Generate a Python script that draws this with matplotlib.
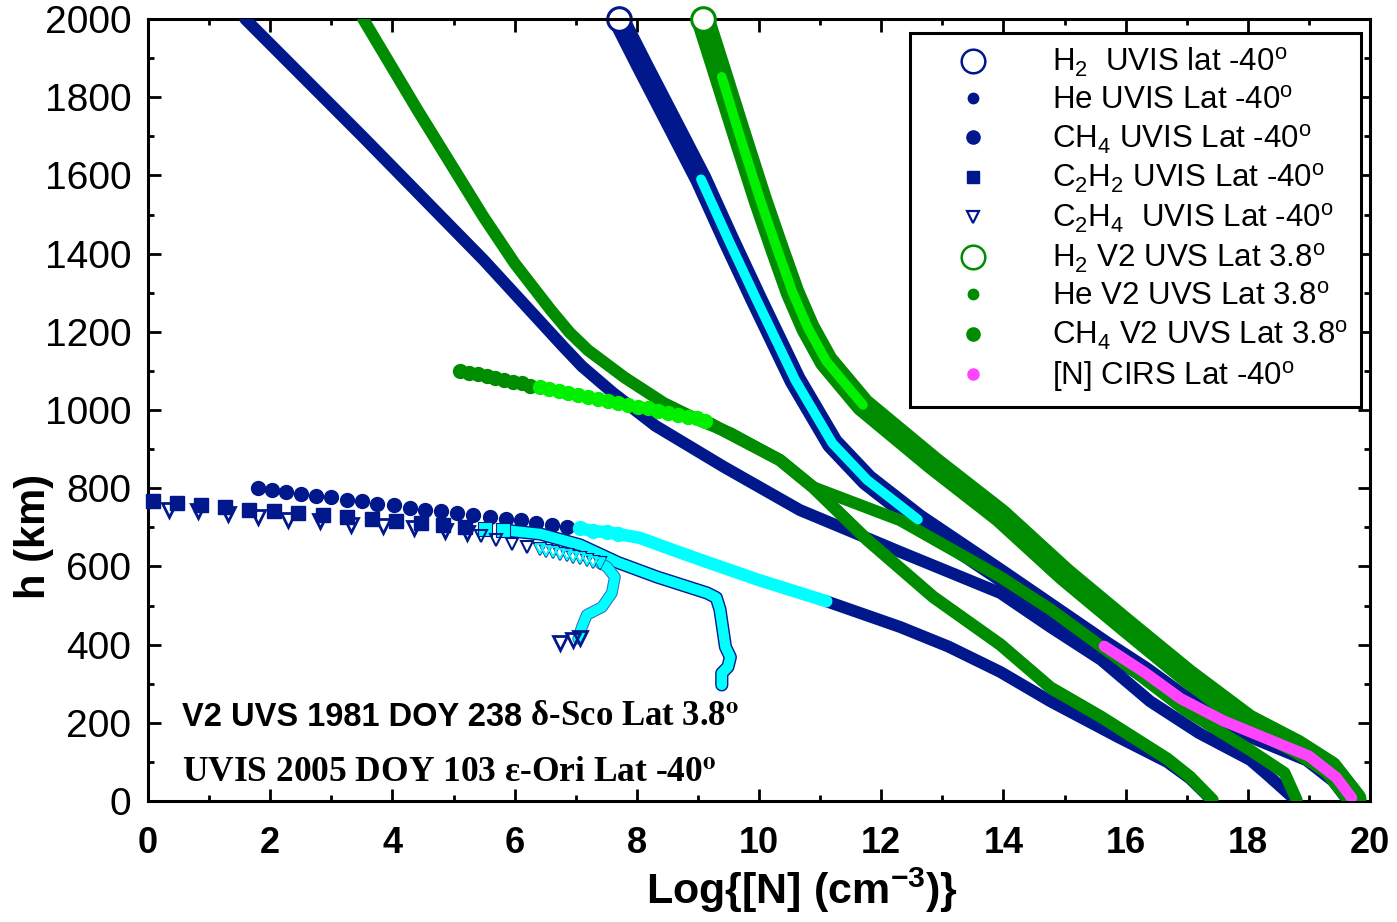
import matplotlib.pyplot as plt
import matplotlib.patheffects as pe
from matplotlib.lines import Line2D

plt.rcParams['font.family'] = ['Liberation Sans', 'DejaVu Sans']
plt.rcParams['mathtext.fontset'] = 'custom'
plt.rcParams['mathtext.rm'] = 'Liberation Sans'
plt.rcParams['mathtext.it'] = 'Liberation Sans:italic'
plt.rcParams['mathtext.bf'] = 'Liberation Sans:bold'
plt.rcParams['mathtext.default'] = 'regular'

# --- data: log10 density (cm^-3) vs altitude (km) ---
# UVIS 2005, lat -40
h2_uvis_logn = [7.7, 8.1, 8.66, 9.05, 9.5, 9.95, 10.59, 11.2, 11.77, 12.6, 13.95, 15.65, 16.3, 16.9, 17.6, 18.3, 19.0, 19.45, 19.72]
h2_uvis_alt = [2000, 1877, 1708, 1590, 1435, 1285, 1077, 915, 821, 720, 578, 396, 330, 262, 205, 160, 115, 60, 5]
h2_uvis_fit_logn = [9.05, 9.5, 9.95, 10.59, 11.2, 11.77, 12.6]
h2_uvis_fit_alt = [1590, 1435, 1285, 1077, 915, 821, 720]

he_uvis_logn = [1.59, 3.52, 5.49, 6.79, 7.1, 7.6, 8.3, 9.43, 10.67, 11.5, 12.31, 13.95, 14.77, 15.6, 16.4, 17.2, 18.04, 18.3, 18.78]
he_uvis_alt = [2000, 1698, 1384, 1163, 1112, 1045, 960, 854, 744, 690, 637, 532, 445, 361, 255, 174, 105, 70, 3]

ch4_uvis_dot_logn = [1.80, 2.03, 2.26, 2.50, 2.75, 2.99, 3.26, 3.50, 3.75, 4.03, 4.29, 4.53, 4.80, 5.06, 5.32, 5.60, 5.86, 6.11, 6.35, 6.61, 6.85]
ch4_uvis_dot_alt = [800, 795, 790, 785, 780, 777, 770, 767, 760, 757, 749, 744, 742, 737, 731, 726, 721, 719, 711, 706, 701]
ch4_uvis_fit_logn = [7.07, 7.28, 7.51, 7.69, 8.05, 8.59, 9.15, 10.0, 11.1]
ch4_uvis_fit_alt = [698, 690, 688, 683, 673, 642, 611, 565, 511]
ch4_uvis_low_logn = [11.1, 12.31, 13.1, 13.95, 14.77, 15.86, 16.68, 17.05, 17.3, 17.4]
ch4_uvis_low_alt = [511, 445, 395, 330, 255, 165, 100, 58, 20, 3]

c2h2_uvis_logn = [0.08, 0.47, 0.87, 1.26, 1.65, 2.06, 2.45, 2.86, 3.26, 3.67, 4.06, 4.47, 4.83, 5.19]
c2h2_uvis_alt = [767, 762, 757, 752, 744, 742, 737, 731, 726, 721, 716, 711, 706, 701]
c2h2_uvis_fit_logn = [5.52, 5.81]
c2h2_uvis_fit_alt = [696, 693]
c2h2_uvis_tail_logn = [5.81, 6.42, 7.07, 7.69, 8.33, 9.15, 9.3, 9.36, 9.45, 9.53, 9.49, 9.39, 9.39]
c2h2_uvis_tail_alt = [693, 683, 655, 610, 573, 532, 520, 490, 394, 368, 343, 327, 297]

c2h4_uvis_logn = [0.34, 0.82, 1.31, 1.80, 2.29, 2.82, 3.32, 3.85, 4.35, 4.86, 5.22]
c2h4_uvis_alt = [744, 742, 734, 726, 719, 716, 706, 703, 698, 691, 685]
c2h4_uvis_zig_logn = [5.45, 5.7, 5.95, 6.2, 6.42, 6.52, 6.63, 6.74, 6.85, 6.96, 7.07, 7.18, 7.29, 7.40]
c2h4_uvis_zig_alt = [678, 668, 658, 650, 644, 640, 636, 632, 628, 625, 621, 616, 612, 608]
c2h4_uvis_tail_logn = [7.40, 7.51, 7.64, 7.59, 7.43, 7.18, 7.1, 7.04]
c2h4_uvis_tail_alt = [608, 599, 573, 532, 496, 476, 445, 415]
c2h4_uvis_end_logn = [6.74, 6.96, 7.07]
c2h4_uvis_end_alt = [404, 412, 417]

# Voyager 2 UVS 1981, lat 3.8
h2_v2_logn = [9.08, 9.33, 9.67, 10.02, 10.3, 10.55, 10.8, 11.1, 11.7, 12.85, 13.95, 15.0, 16.0, 17.0, 18.0, 18.8, 19.35, 19.75]
h2_v2_alt = [2000, 1877, 1708, 1537, 1410, 1300, 1210, 1125, 1013, 864, 730, 580, 450, 322, 205, 140, 85, 5]
h2_v2_fit_logn = [9.39, 9.67, 10.02, 10.3, 10.55, 10.8, 11.1, 11.7]
h2_v2_fit_alt = [1852, 1708, 1537, 1410, 1300, 1210, 1125, 1013]

he_v2_logn = [3.52, 4.41, 5.49, 6.0, 6.59, 6.9, 7.2, 7.8, 8.44, 9.0, 9.53, 10.34, 10.88, 12.31, 13.95, 14.77, 15.9, 16.97, 18.04, 18.6, 18.8]
he_v2_alt = [2000, 1767, 1494, 1375, 1256, 1198, 1153, 1083, 1018, 975, 941, 872, 803, 718, 573, 490, 361, 233, 130, 72, 3]

ch4_v2_dot_logn = [5.11, 5.25, 5.40, 5.55, 5.68, 5.83, 5.97, 6.12, 6.25]
ch4_v2_dot_alt = [1100, 1095, 1092, 1087, 1082, 1077, 1072, 1069, 1061]
ch4_v2_fit_logn = [6.42, 6.56, 6.73, 6.87, 7.04, 7.20, 7.37, 7.53, 7.69, 7.86, 8.02, 8.18, 8.35, 8.51, 8.67, 8.84, 8.98, 9.12]
ch4_v2_fit_alt = [1059, 1054, 1049, 1043, 1038, 1033, 1028, 1023, 1018, 1013, 1008, 1005, 997, 992, 987, 982, 980, 972]
ch4_v2_low_logn = [9.12, 10.34, 10.88, 11.77, 12.85, 13.95, 14.77, 15.6, 16.68, 17.05, 17.42]
ch4_v2_low_alt = [972, 872, 803, 668, 522, 400, 290, 215, 108, 62, 3]

# CIRS, lat -40
cirs_logn = [15.65, 16.3, 16.9, 17.6, 18.3, 19.0, 19.45, 19.7]
cirs_alt = [396, 330, 262, 205, 160, 115, 60, 8]

navy = '#00188C'
green = '#008C00'
lime = '#00F000'
cyan = '#00FFFF'
magenta = '#FF44FF'

fig = plt.figure(figsize=(13.97, 9.22), dpi=100)
ax = fig.add_axes([0.106, 0.1312, 0.8747, 0.8482])

line_kw = dict(solid_capstyle='round', solid_joinstyle='round')

# UVIS profiles
ax.plot(h2_uvis_logn, h2_uvis_alt, color=navy, lw=15.5, zorder=2, **line_kw)
ax.plot(h2_uvis_logn[0], h2_uvis_alt[0], 'o', ms=17, mfc='white', mec=navy, mew=2.2, zorder=2, clip_on=False)
ax.plot(he_uvis_logn, he_uvis_alt, color=navy, lw=8.6, zorder=3, **line_kw)
ax.plot(ch4_uvis_low_logn, ch4_uvis_low_alt, color=navy, lw=8.6, zorder=3, **line_kw)
ax.plot(ch4_uvis_dot_logn, ch4_uvis_dot_alt, 'o', ms=10, color=navy, zorder=3)

outline = [pe.withStroke(linewidth=9.5, foreground=navy)]
ax.plot(c2h2_uvis_tail_logn, c2h2_uvis_tail_alt, color=cyan, lw=7.5, zorder=3,
        path_effects=outline, **line_kw)
ax.plot(c2h2_uvis_logn, c2h2_uvis_alt, 's', ms=9.5, color=navy, zorder=3, clip_on=False)
ax.plot(c2h2_uvis_fit_logn, c2h2_uvis_fit_alt, 's', ms=9.5, mfc=cyan, mec=navy, mew=0.8, zorder=3)

ax.plot(c2h4_uvis_tail_logn, c2h4_uvis_tail_alt, color=cyan, lw=7, zorder=3,
        path_effects=[pe.withStroke(linewidth=8.5, foreground='#3070C0')], **line_kw)
ax.plot(c2h4_uvis_logn, c2h4_uvis_alt, 'v', ms=10, mfc='none', mec=navy, mew=2, zorder=3)
ax.plot(c2h4_uvis_zig_logn, c2h4_uvis_zig_alt, 'v', ms=8.5, mfc='none', mec=navy, mew=1.5, zorder=3)
ax.plot(c2h4_uvis_zig_logn[4:], c2h4_uvis_zig_alt[4:], 'v', ms=7, mfc='none', mec=cyan, mew=1.3, zorder=3)
ax.plot(c2h4_uvis_end_logn, c2h4_uvis_end_alt, 'v', ms=10, mfc='none', mec=navy, mew=2, zorder=3)

# Voyager 2 profiles
ax.plot(h2_v2_logn, h2_v2_alt, color=green, lw=17, zorder=4, **line_kw)
ax.plot(h2_v2_logn[0], h2_v2_alt[0], 'o', ms=17, mfc='white', mec=green, mew=2.2, zorder=4, clip_on=False)
ax.plot(he_v2_logn, he_v2_alt, color=green, lw=8.6, zorder=4, **line_kw)
ax.plot(ch4_v2_low_logn, ch4_v2_low_alt, color=green, lw=9, zorder=4, **line_kw)
ax.plot(ch4_v2_dot_logn, ch4_v2_dot_alt, 'o', ms=10, color=green, zorder=4)

# highlighted parts and CIRS
ax.plot(h2_uvis_fit_logn, h2_uvis_fit_alt, color=cyan, lw=7, zorder=5, **line_kw)
ax.plot(ch4_uvis_fit_logn, ch4_uvis_fit_alt, color=cyan, lw=9, zorder=5, **line_kw)
ax.plot(ch4_uvis_fit_logn[:4], ch4_uvis_fit_alt[:4], 'o', ms=10, color=cyan, zorder=5)
ax.plot(h2_v2_fit_logn, h2_v2_fit_alt, color=lime, lw=7, zorder=5, **line_kw)
ax.plot(ch4_v2_fit_logn, ch4_v2_fit_alt, 'o', ms=10, color=lime, zorder=5)
ax.plot(cirs_logn, cirs_alt, color=magenta, lw=8, zorder=6, **line_kw)

# axes
ax.set_xlim(0, 20)
ax.set_ylim(0, 2000)
ax.set_xticks(range(0, 21, 2))
ax.set_xticks(range(0, 21, 1), minor=True)
ax.set_yticks(range(0, 2001, 200))
ax.set_yticks(range(0, 2001, 100), minor=True)
ax.tick_params(which='both', direction='in', top=True, right=True, width=2)
ax.tick_params(which='major', length=9)
ax.tick_params(which='minor', length=4.5)
ax.tick_params(axis='x', labelsize=26, pad=18)
ax.tick_params(axis='y', labelsize=28, pad=12)
for lab in ax.get_xticklabels():
    lab.set_fontweight('bold')
for s in ax.spines.values():
    s.set_linewidth(2.2)

ax.set_xlabel(r'Log{[N] (cm$^{\mathbf{-3}}$)}', fontsize=31, fontweight='bold')
ax.xaxis.set_label_coords(0.535, -0.083)
ax.set_ylabel('h (km)', fontsize=30, fontweight='bold')
ax.yaxis.set_label_coords(-0.077, 0.338)

# legend
handles = [
    Line2D([], [], ls='none', marker='o', ms=17, mfc='white', mec=navy, mew=1.8),
    Line2D([], [], ls='none', marker='o', ms=7.5, color=navy),
    Line2D([], [], ls='none', marker='o', ms=9.5, color=navy),
    Line2D([], [], ls='none', marker='s', ms=9, color=navy),
    Line2D([], [], ls='none', marker='v', ms=9, mfc='white', mec=navy, mew=1.6),
    Line2D([], [], ls='none', marker='o', ms=17, mfc='white', mec=green, mew=1.8),
    Line2D([], [], ls='none', marker='o', ms=7.5, color=green),
    Line2D([], [], ls='none', marker='o', ms=9.5, color=green),
    Line2D([], [], ls='none', marker='o', ms=8, color=magenta),
]
labels = [
    r'H$_2$  UVIS lat -40$^o$',
    r'He UVIS Lat -40$^o$',
    r'CH$_4$ UVIS Lat -40$^o$',
    r'C$_2$H$_2$ UVIS Lat -40$^o$',
    r'C$_2$H$_4$  UVIS Lat -40$^o$',
    r'H$_2$ V2 UVS Lat 3.8$^o$',
    r'He V2 UVS Lat 3.8$^o$',
    r'CH$_4$ V2 UVS Lat 3.8$^o$',
    r'[N] CIRS Lat -40$^o$',
]
leg = ax.legend(handles, labels, loc='upper left', bbox_to_anchor=(0.6236, 0.982),
                fontsize=22.5, borderaxespad=0, handlelength=3.23, handletextpad=0.92,
                labelspacing=0.22, borderpad=0.4, fancybox=False, framealpha=1,
                edgecolor='black')
leg.get_frame().set_linewidth(2.2)
leg.set_zorder(10)

# observation notes
t1 = ax.text(0.028, 0.096, 'V2 UVS 1981 DOY 238', transform=ax.transAxes,
             fontsize=23.5, fontweight='bold', va='baseline')
ax.annotate(r' δ-Sco Lat 3.8$^{\mathbf{o}}$', xy=(1, 0), xycoords=t1, va='bottom',
            fontsize=25, fontweight='bold', family='Liberation Serif', math_fontfamily='stix')
ax.text(0.028, 0.026, r'UVIS 2005 DOY 103 ε-Ori Lat -40$^{\mathbf{o}}$', transform=ax.transAxes,
        fontsize=25.5, fontweight='bold', family='Liberation Serif', math_fontfamily='stix',
        va='baseline')

fig.savefig('out.png', dpi=100)
